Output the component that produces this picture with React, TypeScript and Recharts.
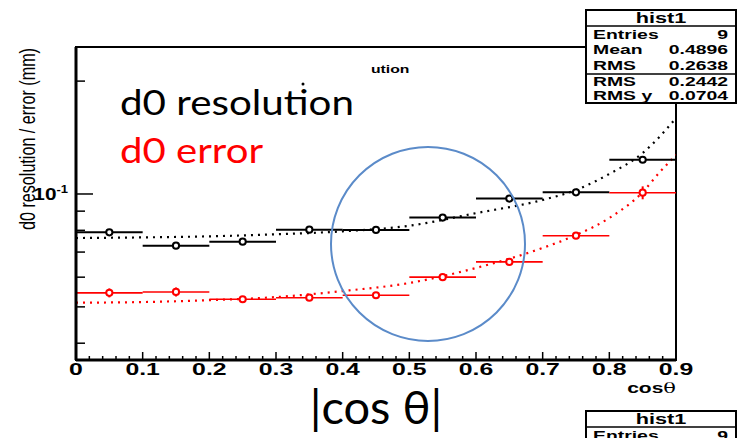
import { ComposedChart, Scatter, Line, XAxis, YAxis, ErrorBar, ReferenceArea, ReferenceDot } from 'recharts'

const binCenters = [0.05, 0.15, 0.25, 0.35, 0.45, 0.55, 0.65, 0.75, 0.85]
const binHalf = 0.05
const resolution = [0.079, 0.0728, 0.0746, 0.0803, 0.0802, 0.0865, 0.0972, 0.101, 0.1234]
const resolutionErr = [0.0004, 0.0004, 0.0004, 0.0004, 0.0004, 0.0005, 0.0005, 0.0006, 0.0008]
const errorValues = [0.0545, 0.0548, 0.0524, 0.0529, 0.0537, 0.06, 0.0659, 0.0774, 0.1008]
const errorErr = [0.0015, 0.0015, 0.0008, 0.0005, 0.0005, 0.0005, 0.0006, 0.0008, 0.004]

const fitX = [0, 0.1, 0.2, 0.3, 0.4, 0.5, 0.6, 0.7, 0.75, 0.8, 0.85, 0.875, 0.9]
const resolutionFit = [0.0763, 0.0766, 0.0771, 0.0781, 0.0795, 0.0823, 0.0889, 0.0964, 0.1025, 0.1131, 0.1286, 0.1419, 0.1595]
const errorFit = [0.0513, 0.0515, 0.0521, 0.0531, 0.0551, 0.0579, 0.0635, 0.0718, 0.0777, 0.0863, 0.1012, 0.114, 0.1271]

const xMajorTicks = [0, 0.1, 0.2, 0.3, 0.4, 0.5, 0.6, 0.7, 0.8, 0.9]
const xMinorTicks = [0.02, 0.04, 0.06, 0.08, 0.12, 0.14, 0.16, 0.18, 0.22, 0.24, 0.26, 0.28, 0.32, 0.34, 0.36, 0.38,
  0.42, 0.44, 0.46, 0.48, 0.52, 0.54, 0.56, 0.58, 0.62, 0.64, 0.66, 0.68, 0.72, 0.74, 0.76, 0.78, 0.82, 0.84, 0.86, 0.88]
const yMajorTicks = [0.1]
const yMinorTicks = [0.04, 0.05, 0.06, 0.07, 0.08, 0.09, 0.2]
const yDomain = [0.03608, 0.2466]

const statsRows = [
  ['Entries', '9'],
  ['Mean', '0.4896'],
  ['RMS', '0.2638'],
]
const statsRows2 = [
  ['RMS', '0.2442'],
  ['RMS y', '0.0704'],
]

const resolutionPts = binCenters.map((x, i) => ({ x, y: resolution[i], ex: binHalf, ey: resolutionErr[i] }))
const errorPts = binCenters.map((x, i) => ({ x, y: errorValues[i], ex: binHalf, ey: errorErr[i] }))
const resolutionFitPts = fitX.map((x, i) => ({ x, y: resolutionFit[i] }))
const errorFitPts = fitX.map((x, i) => ({ x, y: errorFit[i] }))

const HELV = '"Liberation Sans", Arial, sans-serif'
const CALI = 'Lato, "Open Sans", sans-serif'
const isMajor = (list: number[], v: number) => list.some(t => Math.abs(t - v) < 1e-6)

// ROOT text comes out wide on the slide, so stretch it horizontally
function Wide({ x, y, size, anchor = 'start', sx = 1.55, children, fill = '#000', bold = true }: any) {
  return (
    <text transform={`translate(${x},${y}) scale(${sx},1)`} textAnchor={anchor} fontFamily={HELV}
      fontWeight={bold ? 'bold' : 'normal'} fontSize={size} fill={fill}>
      {children}
    </text>
  )
}

function XTick({ x, y, payload }: any) {
  const major = isMajor(xMajorTicks, payload.value)
  return (
    <g>
      <line x1={x} x2={x} y1={y} y2={y - (major ? 8 : 4)} stroke="#000" strokeWidth={1.5} />
      {major && (
        <Wide x={x} y={y + 15} size={16} anchor="middle">
          {payload.value === 0 ? '0' : payload.value.toFixed(1)}
        </Wide>
      )}
    </g>
  )
}

function YTick({ x, y, payload }: any) {
  const major = isMajor(yMajorTicks, payload.value)
  return (
    <g>
      <line x1={x} x2={x + (major ? 17 : 9)} y1={y} y2={y} stroke="#000" strokeWidth={1.5} />
      {major && (
        <Wide x={x - 8} y={y + 6} size={16} anchor="end" sx={1.3}>
          10<tspan dy={-7} fontSize={10}>-1</tspan>
        </Wide>
      )}
    </g>
  )
}

const marker = (color: string) => (p: any) =>
  <circle cx={p.cx} cy={p.cy} r={3.1} fill="#fff" stroke={color} strokeWidth={2} />

function StatsBox({ top, rows, rows2 }: { top: number; rows: string[][]; rows2: string[][] }) {
  const h = rows2.length ? 93 : 60
  return (
    <g>
      <rect x={586} y={top} width={150} height={h} fill="#fff" stroke="#000" strokeWidth={2} />
      <Wide x={661} y={top + 13} size={14} anchor="middle">hist1</Wide>
      <line x1={586} x2={736} y1={top + 16} y2={top + 16} stroke="#000" strokeWidth={1.5} />
      {rows.map((r, i) => (
        <g key={i}>
          <Wide x={593} y={top + 28.5 + i * 15.5} size={12.5}>{r[0]}</Wide>
          <Wide x={728} y={top + 28.5 + i * 15.5} size={12.5} anchor="end">{r[1]}</Wide>
        </g>
      ))}
      {rows2.length > 0 && <line x1={586} x2={736} y1={top + 64} y2={top + 64} stroke="#000" strokeWidth={1.5} />}
      {rows2.map((r, i) => (
        <g key={i}>
          <Wide x={593} y={top + 76 + i * 14} size={12.5}>{r[0]}</Wide>
          <Wide x={728} y={top + 76 + i * 14} size={12.5} anchor="end">{r[1]}</Wide>
        </g>
      ))}
    </g>
  )
}

export default function App() {
  return (
    <div style={{ position: 'absolute', left: 0, top: 0, width: 742, height: 438, background: '#fff', overflow: 'hidden' }}>
      <ComposedChart width={742} height={438} margin={{ top: 47, right: 66, bottom: 77, left: 75 }}>
        <XAxis
          dataKey="x"
          type="number"
          domain={[0, 0.9]}
          allowDataOverflow
          ticks={[...xMajorTicks, ...xMinorTicks]}
          interval={0}
          height={1}
          tickSize={0}
          tickMargin={0}
          tick={<XTick />}
          axisLine={{ stroke: '#000', strokeWidth: 3 }}
        />
        <YAxis
          dataKey="y"
          type="number"
          scale="log"
          domain={yDomain}
          allowDataOverflow
          ticks={[...yMajorTicks, ...yMinorTicks]}
          interval={0}
          width={1}
          tickSize={0}
          tickMargin={0}
          tick={<YTick />}
          axisLine={{ stroke: '#000', strokeWidth: 3 }}
        />
        <ReferenceArea x1={0} x2={0.9} y1={yDomain[0]} y2={yDomain[1]} fill="none" stroke="#000" strokeWidth={2} fillOpacity={0} />
        <Line data={resolutionFitPts} dataKey="y" type="monotone" stroke="#000" strokeWidth={2.2} strokeDasharray="2 5" dot={false} isAnimationActive={false} />
        <Line data={errorFitPts} dataKey="y" type="monotone" stroke="#ff0000" strokeWidth={2.2} strokeDasharray="2 5" dot={false} isAnimationActive={false} />
        <Scatter data={resolutionPts} shape={marker('#000')} isAnimationActive={false}>
          <ErrorBar dataKey="ex" direction="x" width={0} stroke="#000" strokeWidth={2} />
          <ErrorBar dataKey="ey" direction="y" width={0} stroke="#000" strokeWidth={2} />
        </Scatter>
        <Scatter data={errorPts} shape={marker('#ff0000')} isAnimationActive={false}>
          <ErrorBar dataKey="ex" direction="x" width={0} stroke="#ff0000" strokeWidth={1.6} />
          <ErrorBar dataKey="ey" direction="y" width={0} stroke="#ff0000" strokeWidth={2} />
        </Scatter>
        <ReferenceDot x={0.528} y={0.0736} r={97} fill="none" stroke="#5b8bc9" strokeWidth={2} />
      </ComposedChart>
      <svg width={742} height={438} style={{ position: 'absolute', left: 0, top: 0, pointerEvents: 'none' }}>
        <text transform="translate(28,139) rotate(-90)" y={7} textAnchor="middle" fontFamily={HELV} fontSize={22}
          textLength={182} lengthAdjust="spacingAndGlyphs" fill="#000">
          d0 resolution / error (mm)
        </text>
        <text x={120} y={115} fontFamily={CALI} fontSize={35} textLength={234} lengthAdjust="spacingAndGlyphs" fill="#000">d0 resolution</text>
        <text x={120} y={163} fontFamily={CALI} fontSize={35} textLength={143} lengthAdjust="spacingAndGlyphs" fill="#ff0000">d0 error</text>
        <Wide x={371} y={73} size={10.5} sx={1.5}>ution</Wide>
        <circle cx={303} cy={84} r={1.5} fill="#000" />
        <Wide x={676} y={393} size={15} anchor="end" sx={1.4}>
          cos<tspan fontWeight="normal" fontFamily="'DejaVu Serif', serif">θ</tspan>
        </Wide>
        <text x={376} y={424} textAnchor="middle" fontFamily={CALI} fontSize={47} fill="#000">|cos θ|</text>
        <StatsBox top={10} rows={statsRows} rows2={statsRows2} />
        <StatsBox top={411} rows={statsRows.slice(0, 1)} rows2={[]} />
      </svg>
    </div>
  )
}
